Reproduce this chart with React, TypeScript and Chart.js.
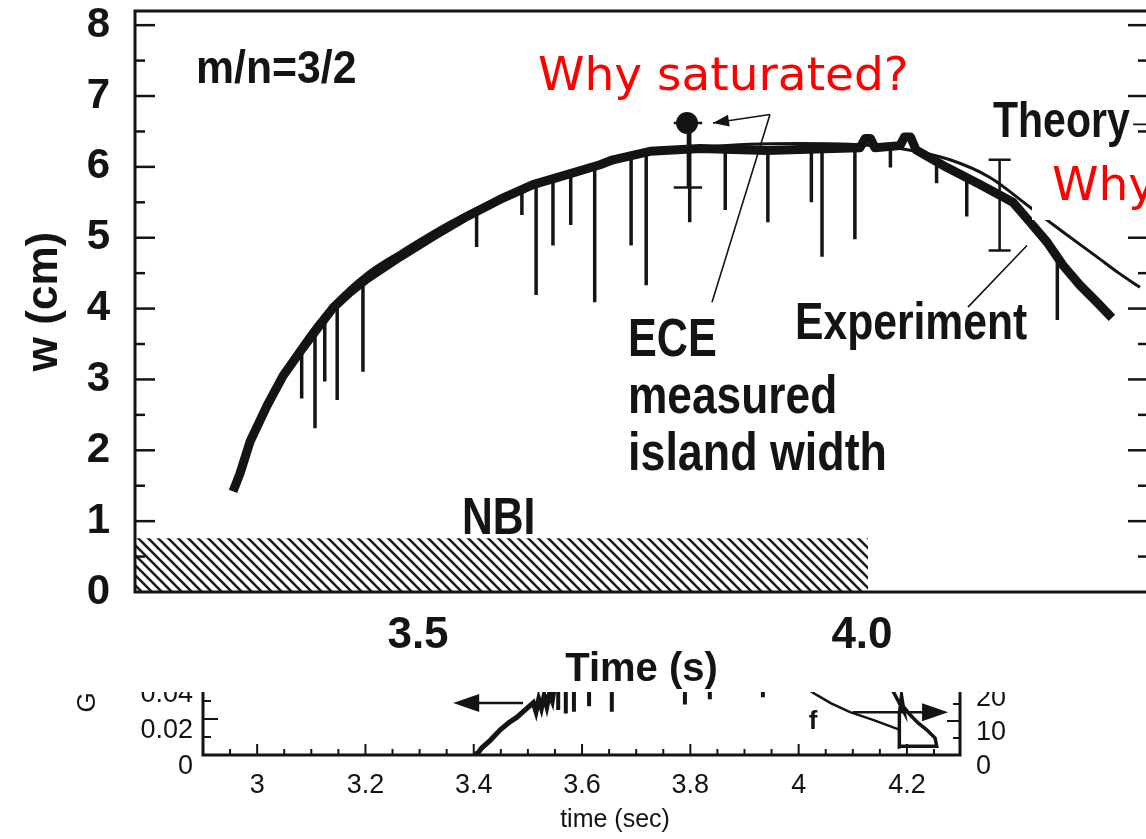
import React, { useEffect, useRef } from "react";
import { Chart, registerables } from "chart.js";

Chart.register(...registerables);

// ---------------- Main panel (time in s, island width w in cm) ----------------
const expTime = [3.2917, 3.2995, 3.3108, 3.33, 3.348, 3.3671, 3.3863, 3.4043, 3.4234, 3.4426, 3.4797, 3.5169, 3.5552, 3.5923, 3.6295, 3.6678, 3.705, 3.7196, 3.7613, 3.8176, 3.893, 3.9673, 3.9977, 4.0036, 4.0096, 4.0146, 4.0428, 4.0478, 4.0548, 4.0608, 4.0957, 4.1329, 4.17, 4.1892, 4.2083, 4.2264, 4.2455, 4.2646, 4.2815];
const expWidth = [1.42, 1.67, 2.12, 2.63, 3.05, 3.39, 3.71, 4.01, 4.23, 4.42, 4.73, 5.02, 5.3, 5.54, 5.75, 5.89, 6.03, 6.1, 6.22, 6.26, 6.23, 6.26, 6.27, 6.4, 6.4, 6.27, 6.3, 6.42, 6.42, 6.24, 5.99, 5.75, 5.5, 5.22, 4.94, 4.61, 4.33, 4.09, 3.87];

const theoryTime = [3.2917, 3.3108, 3.3333, 3.3671, 3.4043, 3.4426, 3.4797, 3.536, 3.5923, 3.6486, 3.705, 3.7613, 3.8176, 3.8739, 3.9302, 3.9865, 4.0428, 4.0991, 4.1441, 4.1892, 4.2264, 4.2646, 4.2905, 4.3131];
const theoryWidth = [1.48, 2.18, 2.74, 3.46, 4.06, 4.5, 4.8, 5.22, 5.57, 5.84, 6.05, 6.19, 6.27, 6.32, 6.33, 6.32, 6.26, 6.1, 5.85, 5.43, 5.08, 4.73, 4.49, 4.3];

// downward drops of the ECE trace
const spikeTime = [3.369, 3.384, 3.395, 3.409, 3.438, 3.566, 3.617, 3.633, 3.652, 3.672, 3.699, 3.74, 3.757, 3.806, 3.846, 3.894, 3.943, 3.955, 3.992, 4.032, 4.084, 4.118, 4.22];
const spikeTop = [3.4, 3.66, 3.85, 4.05, 4.38, 5.35, 5.68, 5.75, 5.83, 5.9, 6.0, 6.2, 6.22, 6.6, 6.25, 6.23, 6.25, 6.25, 6.27, 6.28, 6.08, 5.85, 4.75];
const spikeBottom = [2.73, 2.31, 2.97, 2.71, 3.11, 4.87, 5.32, 4.19, 4.89, 5.18, 4.09, 4.89, 4.33, 5.22, 5.39, 5.22, 5.5, 4.73, 4.98, 5.99, 5.77, 5.3, 3.84];

// error bars
const errTime = [3.804, 4.155];
const errLow = [5.71, 4.82];
const errHigh = [6.62, 6.1];
const errCap = [0.016, 0.0124];

// saturated point marker
const blobTime = [3.803];
const blobWidth = [6.62];

// NBI hatched bar
const nbiTime = [3.1813, 4.0068];
const nbiLevel = 0.76;

// pointer lines [x1, y1, x2, y2]
const pointerLines = [
  [3.8311, 4.09, 3.8964, 6.74],
  [3.8964, 6.74, 3.8322, 6.62],
  [4.1194, 4.02, 4.1858, 4.89],
  [4.3053, 6.6, 4.325, 6.6],
];
const mainArrows = [[3.8964, 6.74, 3.8322, 6.62]];

const mainXTicks = [3.5, 4.0];
const mainYTicks = [0, 1, 2, 3, 4, 5, 6, 7, 8];
const mainYTickMarks = [0.5, 1, 1.5, 2, 2.5, 3, 3.5, 4, 4.5, 5, 5.5, 6, 6.5, 7, 7.5, 8];

// ---------------- Inset (time in sec; G left axis, f right axis) ----------------
const gTime = [3.4, 3.405, 3.415, 3.43, 3.449, 3.465, 3.48, 3.495, 3.51, 3.515, 3.52, 3.525, 3.53, 3.535, 3.54, 3.545, 3.55, 3.56];
const gValue = [0.001, 0.0, 0.004, 0.008, 0.014, 0.018, 0.021, 0.025, 0.029, 0.024, 0.031, 0.026, 0.033, 0.027, 0.034, 0.03, 0.04, 0.06];
const gSpikeTime = [3.556, 3.57, 3.585, 3.613, 3.655, 3.79, 3.836, 3.934];
const gSpikeBottom = [0.025, 0.023, 0.024, 0.027, 0.024, 0.028, 0.031, 0.032];
const gSpikeTop = 0.07;

const fTime = [3.99, 4.034, 4.06, 4.095, 4.14, 4.187];
const fValue = [22.0, 17.6, 15.2, 12.6, 10.2, 7.4];
const triTime = [4.172, 4.195, 4.19, 4.186, 4.186, 4.19, 4.255, 4.252, 4.236, 4.22, 4.205, 4.192];
const triValue = [19.5, 12.5, 17.5, 12.0, 2.4, 2.6, 2.6, 5.0, 7.5, 9.5, 12.0, 14.5];

const gArrow = [3.491, 0.0289, 3.362, 0.0289];
const fArrow = [4.1, 12.6, 4.276, 12.6];

const insetXTicks = [3.0, 3.2, 3.4, 3.6, 3.8, 4.0, 4.2];
const insetGTicks = [0, 0.02, 0.04];
const insetFTicks = [0, 10, 20];

// ---------------- styling ----------------
const INK = "#141414";
const RED = "#ff0000";
const BOLD = "'Liberation Sans', Arial, Helvetica, sans-serif";
const SANS = "'Liberation Sans', Arial, sans-serif";
const DEJAVU = "'DejaVu Sans', sans-serif";

function makeHatch(): CanvasPattern | string {
  const c = document.createElement("canvas");
  const s = 10;
  c.width = s;
  c.height = s;
  const g = c.getContext("2d");
  if (!g) return INK;
  g.strokeStyle = "#1c1c1c";
  g.lineWidth = 2.6;
  g.beginPath();
  g.moveTo(-2, -2);
  g.lineTo(s + 2, s + 2);
  g.moveTo(-2, s - 2);
  g.lineTo(2, s + 2);
  g.moveTo(s - 2, -2);
  g.lineTo(s + 2, 2);
  g.stroke();
  return g.createPattern(c, "repeat") || INK;
}

function pairs(xs: number[], ys: number[]) {
  return xs.map((x, i) => ({ x, y: ys[i] }));
}

function arrowHead(ctx: CanvasRenderingContext2D, x1: number, y1: number, x2: number, y2: number, len: number, half: number) {
  const a = Math.atan2(y2 - y1, x2 - x1);
  ctx.beginPath();
  ctx.moveTo(x2, y2);
  ctx.lineTo(x2 - len * Math.cos(a) + half * Math.sin(a), y2 - len * Math.sin(a) - half * Math.cos(a));
  ctx.lineTo(x2 - len * Math.cos(a) - half * Math.sin(a), y2 - len * Math.sin(a) + half * Math.cos(a));
  ctx.closePath();
  ctx.fill();
}

function seg(ctx: CanvasRenderingContext2D, x1: number, y1: number, x2: number, y2: number) {
  ctx.beginPath();
  ctx.moveTo(x1, y1);
  ctx.lineTo(x2, y2);
  ctx.stroke();
}

// annotation texts: position (left, baseline), font, horizontal squeeze
const mainTexts = [
  { t: "m/n=3/2", x: 196, y: 83, font: `bold 46px ${BOLD}`, sx: 0.93, c: INK },
  { t: "Why saturated?", x: 538, y: 90, font: `47px ${DEJAVU}`, sx: 1, c: RED },
  { t: "Theory", x: 993, y: 137, font: `bold 50px ${BOLD}`, sx: 0.82, c: INK },
  { t: "ECE", x: 628, y: 356, font: `bold 54px ${BOLD}`, sx: 0.8, c: INK },
  { t: "measured", x: 628, y: 413, font: `bold 54px ${BOLD}`, sx: 0.82, c: INK },
  { t: "island width", x: 628, y: 470, font: `bold 54px ${BOLD}`, sx: 0.83, c: INK },
  { t: "Experiment", x: 795, y: 339, font: `bold 52px ${BOLD}`, sx: 0.82, c: INK },
  { t: "NBI", x: 462, y: 534, font: `bold 52px ${BOLD}`, sx: 0.82, c: INK },
];

const mainPlugin = {
  id: "mainDecor",
  afterDatasetsDraw(chart: any) {
    const { ctx, chartArea: a } = chart;
    const x = chart.scales.x;
    const y = chart.scales.y;
    ctx.save();
    ctx.strokeStyle = INK;
    ctx.fillStyle = INK;
    ctx.lineWidth = 3;
    ctx.strokeRect(a.left, a.top, a.right - a.left, a.bottom - a.top);
    ctx.lineWidth = 2.5;
    for (const v of mainYTickMarks) {
      const p = y.getPixelForValue(v);
      const len = Number.isInteger(v) ? 20 : 10;
      seg(ctx, a.left, p, a.left + len, p);
      seg(ctx, a.right, p, a.right - len, p);
    }
    for (const [x1, y1, x2, y2] of mainArrows) {
      arrowHead(ctx, x.getPixelForValue(x1), y.getPixelForValue(y1), x.getPixelForValue(x2), y.getPixelForValue(y2), 16, 6);
    }
    // white patch behind the second question
    ctx.fillStyle = "#ffffff";
    ctx.fillRect(1032, 143, 140, 77);
    ctx.textBaseline = "alphabetic";
    ctx.textAlign = "left";
    for (const m of mainTexts) {
      ctx.save();
      ctx.font = m.font;
      ctx.fillStyle = m.c;
      ctx.translate(m.x, m.y);
      ctx.scale(m.sx, 1);
      ctx.fillText(m.t, 0, 0);
      ctx.restore();
    }
    ctx.font = `47px ${DEJAVU}`;
    ctx.fillStyle = RED;
    ctx.fillText("Why", 1052, 200);
    ctx.restore();
  },
};

function mainConfig(): any {
  const spikes = spikeTime.flatMap((t, i) => [
    { x: t, y: spikeTop[i] },
    { x: t, y: spikeBottom[i] },
    { x: t, y: null },
  ]);
  const errs = errTime.flatMap((t, i) => [
    { x: t, y: errLow[i] },
    { x: t, y: errHigh[i] },
    { x: t, y: null },
    { x: t - errCap[i], y: errLow[i] },
    { x: t + errCap[i], y: errLow[i] },
    { x: t, y: null },
    { x: t - errCap[i], y: errHigh[i] },
    { x: t + errCap[i], y: errHigh[i] },
    { x: t, y: null },
  ]);
  const pointers = pointerLines.flatMap(([x1, y1, x2, y2]) => [
    { x: x1, y: y1 },
    { x: x2, y: y2 },
    { x: x2, y: null },
  ]);
  return {
    type: "line",
    data: {
      datasets: [
        {
          label: "NBI",
          data: nbiTime.map((t) => ({ x: t, y: nbiLevel })),
          fill: "origin",
          backgroundColor: makeHatch(),
          borderWidth: 0,
          pointRadius: 0,
        },
        {
          label: "Theory",
          data: pairs(theoryTime, theoryWidth),
          borderColor: INK,
          borderWidth: 3,
          pointRadius: 0,
          cubicInterpolationMode: "monotone",
          fill: false,
        },
        {
          label: "Experiment (ECE)",
          data: pairs(expTime, expWidth),
          borderColor: INK,
          borderWidth: 9,
          pointRadius: 0,
          borderJoinStyle: "round",
          fill: false,
        },
        {
          label: "ECE drops",
          data: spikes,
          borderColor: INK,
          borderWidth: 3.5,
          pointRadius: 0,
          fill: false,
        },
        {
          label: "Error bars",
          data: errs,
          borderColor: INK,
          borderWidth: 2.5,
          pointRadius: 0,
          fill: false,
        },
        {
          label: "Saturation",
          data: pairs(blobTime, blobWidth),
          showLine: false,
          pointRadius: 11,
          pointBackgroundColor: INK,
          pointBorderWidth: 0,
        },
        {
          label: "Pointers",
          data: pointers,
          borderColor: INK,
          borderWidth: 1.6,
          pointRadius: 0,
          fill: false,
        },
      ],
    },
    options: {
      responsive: false,
      animation: false,
      devicePixelRatio: 1,
      layout: { padding: { top: 8, right: 12, left: 0, bottom: 0 } },
      plugins: { legend: { display: false }, tooltip: { enabled: false } },
      scales: {
        x: {
          type: "linear",
          min: 3.1813,
          max: 4.3221,
          grid: { display: false, drawTicks: false },
          border: { display: false },
          afterBuildTicks: (s: any) => {
            s.ticks = mainXTicks.map((v) => ({ value: v }));
          },
          afterFit: (s: any) => {
            s.height = 100;
            s.paddingLeft = 0;
            s.paddingRight = 0;
          },
          ticks: {
            color: INK,
            padding: 17,
            maxRotation: 0,
            font: { family: BOLD, size: 44, weight: "bold" },
            callback: (v: any) => Number(v).toFixed(1),
          },
          title: {
            display: true,
            text: "Time (s)",
            color: INK,
            font: { family: BOLD, size: 40, weight: "bold", lineHeight: 1 },
            padding: { top: 0, bottom: 2 },
          },
        },
        y: {
          type: "linear",
          min: 0,
          max: 8.2,
          grid: { display: false, drawTicks: false },
          border: { display: false },
          afterBuildTicks: (s: any) => {
            s.ticks = mainYTicks.map((v) => ({ value: v }));
          },
          afterFit: (s: any) => {
            s.width = 135;
            s.paddingTop = 0;
            s.paddingBottom = 0;
          },
          ticks: {
            color: INK,
            padding: 25,
            font: { family: BOLD, size: 42, weight: "bold" },
          },
          title: {
            display: true,
            text: "w (cm)",
            color: INK,
            font: { family: BOLD, size: 44, weight: "bold", lineHeight: 1 },
            padding: { top: 23, bottom: 0 },
          },
        },
      },
    },
    plugins: [mainPlugin],
  };
}

const insetPlugin = {
  id: "insetDecor",
  afterDatasetsDraw(chart: any) {
    const { ctx, chartArea: a } = chart;
    const x = chart.scales.x;
    const yG = chart.scales.yG;
    const yF = chart.scales.yF;
    ctx.save();
    ctx.strokeStyle = INK;
    ctx.fillStyle = INK;
    ctx.lineWidth = 3;
    ctx.strokeRect(a.left, a.top, a.right - a.left, a.bottom - a.top);
    ctx.lineWidth = 2;
    for (let k = 59; k <= 85; k++) {
      const v = k * 0.05;
      const p = x.getPixelForValue(v);
      const major = insetXTicks.some((t) => Math.abs(t - v) < 1e-6);
      seg(ctx, p, a.bottom, p, a.bottom - (major ? 11 : 6));
    }
    for (let k = 1; k <= 5; k++) {
      const p = yG.getPixelForValue(k * 0.01);
      seg(ctx, a.left, p, a.left + (k % 2 === 0 ? 15 : 8), p);
    }
    for (const v of [5, 10, 15, 20]) {
      const p = yF.getPixelForValue(v);
      seg(ctx, a.right, p, a.right - (v % 10 === 0 ? 13 : 7), p);
    }
    // arrows
    ctx.lineWidth = 2.5;
    {
      const [x1, y1, x2, y2] = gArrow;
      const X1 = x.getPixelForValue(x1), Y1 = yG.getPixelForValue(y1);
      const X2 = x.getPixelForValue(x2), Y2 = yG.getPixelForValue(y2);
      seg(ctx, X1, Y1, X2 + 20, Y2);
      arrowHead(ctx, X1, Y1, X2, Y2, 26, 9);
    }
    {
      const [x1, y1, x2, y2] = fArrow;
      const X1 = x.getPixelForValue(x1), Y1 = yF.getPixelForValue(y1);
      const X2 = x.getPixelForValue(x2), Y2 = yF.getPixelForValue(y2);
      seg(ctx, X1, Y1, X2 - 20, Y2);
      arrowHead(ctx, X1, Y1, X2, Y2, 26, 9);
    }
    ctx.font = `bold 26px ${SANS}`;
    ctx.textAlign = "center";
    ctx.textBaseline = "middle";
    ctx.fillText("f", 813, 82);
    ctx.font = `25px ${SANS}`;
    ctx.fillText("time (sec)", 615, 180);
    ctx.restore();
  },
};

function insetConfig(): any {
  const gSpikes = gSpikeTime.flatMap((t, i) => [
    { x: t, y: gSpikeTop },
    { x: t, y: gSpikeBottom[i] },
    { x: t, y: null },
  ]);
  return {
    type: "line",
    data: {
      datasets: [
        {
          label: "G",
          data: pairs(gTime, gValue),
          yAxisID: "yG",
          borderColor: INK,
          borderWidth: 5,
          pointRadius: 0,
          fill: false,
        },
        {
          label: "G drops",
          data: gSpikes,
          yAxisID: "yG",
          borderColor: INK,
          borderWidth: 4,
          pointRadius: 0,
          fill: false,
        },
        {
          label: "f",
          data: pairs(fTime, fValue),
          yAxisID: "yF",
          borderColor: INK,
          borderWidth: 2.5,
          pointRadius: 0,
          fill: false,
        },
        {
          label: "f (end)",
          data: pairs(triTime, triValue),
          yAxisID: "yF",
          borderColor: INK,
          borderWidth: 3.5,
          pointRadius: 0,
          fill: false,
        },
      ],
    },
    options: {
      responsive: false,
      animation: false,
      devicePixelRatio: 1,
      layout: { padding: { top: 10, right: 0, left: 0, bottom: 0 } },
      plugins: { legend: { display: false }, tooltip: { enabled: false } },
      scales: {
        x: {
          type: "linear",
          min: 2.9,
          max: 4.298,
          grid: { display: false, drawTicks: false },
          border: { display: false },
          afterBuildTicks: (s: any) => {
            s.ticks = insetXTicks.map((v) => ({ value: v }));
          },
          afterFit: (s: any) => {
            s.height = 84;
            s.paddingLeft = 0;
            s.paddingRight = 0;
          },
          ticks: {
            color: INK,
            padding: 14,
            maxRotation: 0,
            font: { family: SANS, size: 27 },
            callback: (v: any) => String(Number(Number(v).toFixed(1))),
          },
        },
        yG: {
          type: "linear",
          position: "left",
          min: 0,
          max: 0.0583,
          grid: { display: false, drawTicks: false },
          border: { display: false },
          afterBuildTicks: (s: any) => {
            s.ticks = insetGTicks.map((v) => ({ value: v }));
          },
          afterFit: (s: any) => {
            s.width = 203;
            s.paddingTop = 0;
            s.paddingBottom = 0;
          },
          ticks: {
            color: INK,
            padding: 10,
            labelOffset: 12,
            font: { family: SANS, size: 27 },
            callback: (v: any) => String(Number(Number(v).toFixed(2))),
          },
          title: {
            display: true,
            text: "G",
            color: INK,
            font: { family: SANS, size: 26, lineHeight: 1 },
            padding: { top: 75, bottom: 0 },
          },
        },
        yF: {
          type: "linear",
          position: "right",
          min: 0,
          max: 30.9,
          grid: { display: false, drawTicks: false },
          border: { display: false },
          afterBuildTicks: (s: any) => {
            s.ticks = insetFTicks.map((v) => ({ value: v }));
          },
          afterFit: (s: any) => {
            s.width = 186;
            s.paddingTop = 0;
            s.paddingBottom = 0;
          },
          ticks: {
            color: INK,
            padding: 16,
            labelOffset: 12,
            font: { family: SANS, size: 27 },
          },
        },
      },
    },
    plugins: [insetPlugin],
  };
}

export default function App() {
  const mainRef = useRef<HTMLCanvasElement>(null);
  const insetRef = useRef<HTMLCanvasElement>(null);
  useEffect(() => {
    const main = new Chart(mainRef.current as HTMLCanvasElement, mainConfig());
    const inset = new Chart(insetRef.current as HTMLCanvasElement, insetConfig());
    return () => {
      main.destroy();
      inset.destroy();
    };
  }, []);
  return (
    <div style={{ position: "fixed", left: 0, top: 0, width: 1146, height: 839, overflow: "hidden", background: "#fff" }}>
      <canvas
        ref={mainRef}
        width={1160}
        height={692}
        style={{ position: "absolute", left: 0, top: 0, width: 1160, height: 692 }}
      />
      <div style={{ position: "absolute", left: 0, top: 692, width: 1146, height: 147, overflow: "hidden" }}>
        <canvas
          ref={insetRef}
          width={1146}
          height={199}
          style={{ position: "absolute", left: 0, top: -52, width: 1146, height: 199 }}
        />
      </div>
    </div>
  );
}
